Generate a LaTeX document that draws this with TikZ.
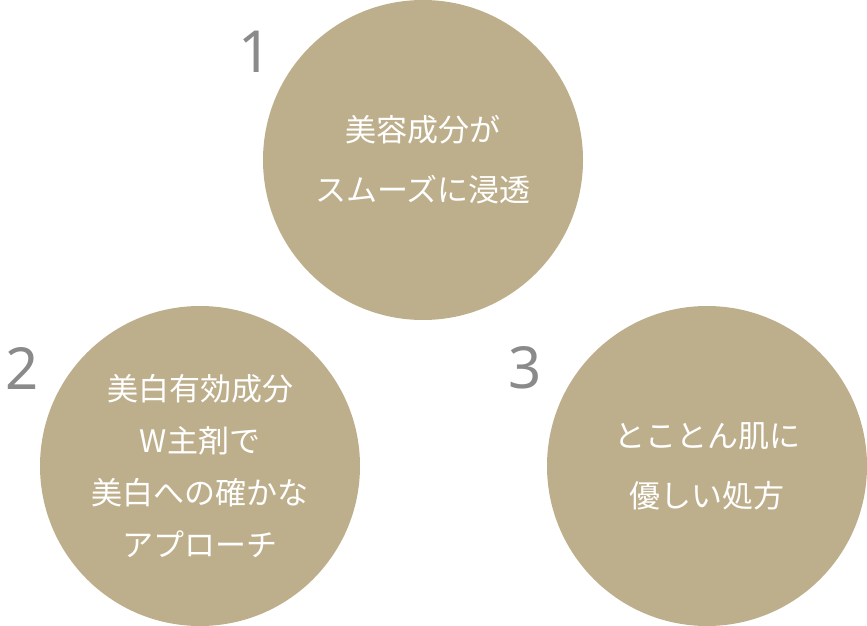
\documentclass[tikz,border=0pt]{standalone}
\usepackage{fontspec}
\setmainfont{Noto Sans CJK JP}
\newfontfamily\numfont{Noto Sans}
\definecolor{beige}{HTML}{BEAF8C}
\definecolor{numgray}{HTML}{8A8A8A}
\tikzset{
  point/.style={circle, fill=beige, minimum size=320pt, inner sep=0pt, text=white, align=center,
    font=\fontsize{31}{60}\selectfont},
  num/.style={text=numgray, font=\numfont\bfseries\fontsize{58}{58}\selectfont, inner sep=0pt}
}
\begin{document}
\begin{tikzpicture}[x=1pt,y=-1pt]
  \useasboundingbox (0,0) rectangle (867,626);
  \node[point] (p1) at (423,160) {美容成分が\\スムーズに浸透};
  \node[point, font=\fontsize{31}{52}\selectfont] (p2) at (200,466) {美白有効成分\\W主剤で\\美白への確かな\\アプローチ};
  \node[point] (p3) at (707,466) {とことん肌に\\優しい処方};
  \node[num] (n1) at (255,52) {1};
  \node[num] (n2) at (22,368) {2};
  \node[num] (n3) at (525,368) {3};
\end{tikzpicture}
\end{document}
